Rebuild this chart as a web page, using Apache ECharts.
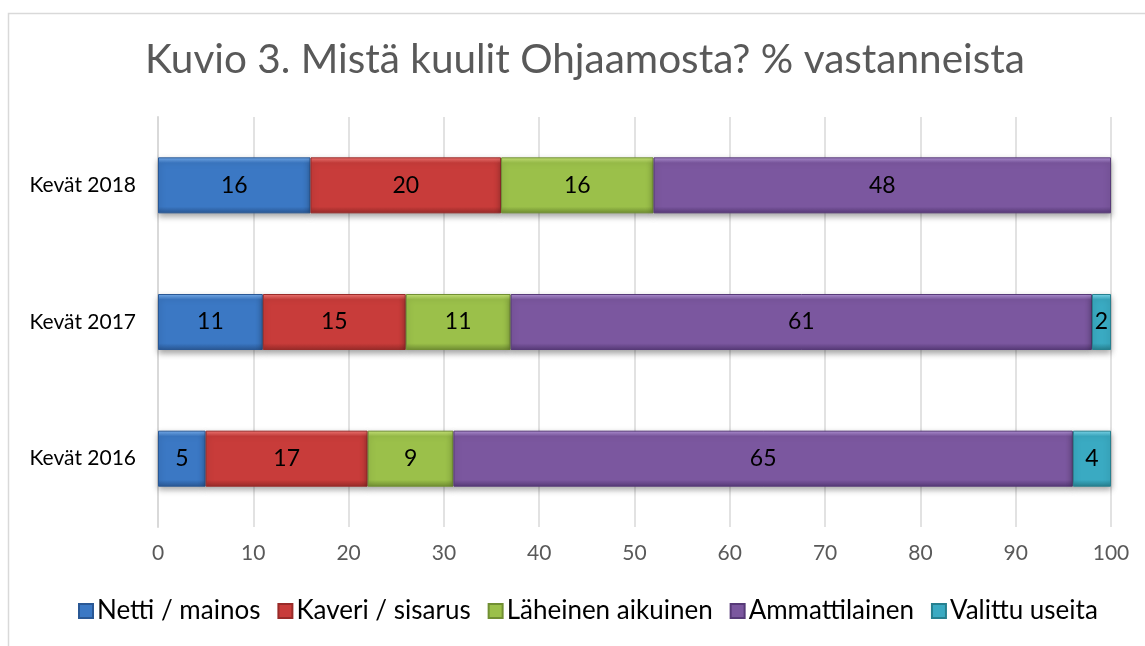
<!DOCTYPE html>
<html>
<head>
<meta charset="utf-8">
<script src="https://cdn.jsdelivr.net/npm/echarts@6/dist/echarts.min.js"></script>
<style>
html,body{margin:0;padding:0;background:#fff;}
#chart{width:1145px;height:646px;}
</style>
</head>
<body>
<div id="chart"></div>
<script>
var categories = ['Kevät 2016', 'Kevät 2017', 'Kevät 2018'];
var seriesNames = ['Netti / mainos', 'Kaveri / sisarus', 'Läheinen aikuinen', 'Ammattilainen', 'Valittu useita'];
var netti = [5, 11, 16];
var kaveri = [17, 15, 20];
var laheinen = [9, 11, 16];
var ammatti = [65, 61, 48];
var useita = [4, 2, null];
var xTicks = [0, 10, 20, 30, 40, 50, 60, 70, 80, 90, 100];

var baseColors = ['#3b78c4', '#c83c3a', '#9bc04a', '#7b579f', '#3aaac2'];
var lightColors = ['#79b0f0', '#f57a76', '#cbe87c', '#b394d8', '#7fdcf0'];
var darkColors = ['#2a5895', '#992b29', '#718f33', '#573a78', '#26808f'];
var dataSets = [netti, kaveri, laheinen, ammatti, useita];

var FONT = 'Lato, "Open Sans", sans-serif';

function grad(i){
  return new echarts.graphic.LinearGradient(0,0,0,1,[
    {offset:0, color: lightColors[i]},
    {offset:0.1, color: baseColors[i]},
    {offset:0.88, color: baseColors[i]},
    {offset:1, color: darkColors[i]}
  ]);
}

var series = seriesNames.map(function(name, i){
  return {
    name: name,
    type: 'bar',
    stack: 'total',
    barWidth: 56,
    data: dataSets[i],
    itemStyle: {
      color: grad(i),
      borderColor: darkColors[i],
      borderWidth: 1,
      shadowColor: 'rgba(0,0,0,0.35)',
      shadowBlur: 6,
      shadowOffsetY: 3
    },
    label: {
      show: true,
      position: 'inside',
      color: '#000',
      fontFamily: FONT,
      fontSize: 23
    }
  };
});

var chart = echarts.init(document.getElementById('chart'));
chart.setOption({
  animation: false,
  backgroundColor: '#fff',
  graphic: [{
    type: 'rect',
    shape: {x: 8.5, y: 13.5, width: 1160, height: 660},
    style: {fill: 'none', stroke: '#d9d9d9', lineWidth: 1.5},
    silent: true,
    z: -10
  }],
  title: {
    text: 'Kuvio 3. Mistä kuulit Ohjaamosta? % vastanneista',
    left: 140,
    top: 34,
    textStyle: {color: '#595959', fontFamily: FONT, fontSize: 40.5, fontWeight: 'normal'}
  },
  legend: {
    data: seriesNames,
    bottom: 17,
    left: 73,
    itemWidth: 14,
    itemHeight: 14,
    itemGap: 17,
    icon: 'rect',
    textStyle: {color: '#000', fontFamily: FONT, fontSize: 26, padding: [0,0,0,-1]}
  },
  grid: {left: 158, right: 34, top: 117, height: 410},
  xAxis: {
    type: 'value',
    min: 0,
    max: 100,
    interval: 10,
    axisLine: {show: false},
    axisTick: {show: false},
    splitLine: {lineStyle: {color: '#d9d9d9', width: 1.5}},
    axisLabel: {
      color: '#595959', fontFamily: FONT, fontSize: 21, margin: 16,
      formatter: function(v){ return xTicks.indexOf(v) >= 0 ? String(v) : ''; }
    }
  },
  yAxis: {
    type: 'category',
    data: categories,
    axisLine: {show: true, lineStyle: {color: '#d9d9d9', width: 2}},
    axisTick: {show: false},
    axisLabel: {color: '#000', fontFamily: FONT, fontSize: 21, margin: 22}
  },
  series: series
});
</script>
</body>
</html>
